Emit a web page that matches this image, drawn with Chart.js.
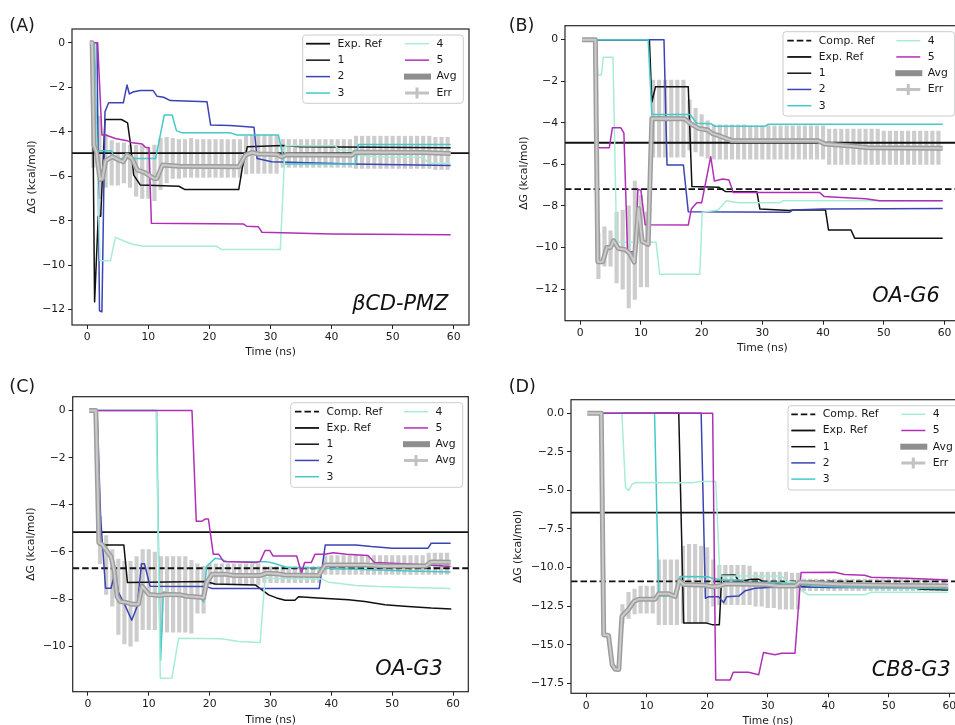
<!DOCTYPE html>
<html>
<head>
<meta charset="utf-8">
<script src="https://cdn.jsdelivr.net/npm/chart.js@4.4.1/dist/chart.umd.min.js"></script>
<style>
  html, body { margin: 0; padding: 0; background: #fff; overflow: hidden; }
  body { width: 955px; height: 725px; position: relative; }
  canvas { position: absolute; }
</style>
</head>
<body>
<canvas id="pA" width="478" height="360" style="left:0;top:0"></canvas>
<canvas id="pB" width="490" height="360" style="left:478px;top:0"></canvas>
<canvas id="pC" width="478" height="370" style="left:0;top:360px"></canvas>
<canvas id="pD" width="490" height="370" style="left:478px;top:360px"></canvas>
<script>
// ---- shared ticks / sampling ----
const timeTicks = [0, 10, 20, 30, 40, 50, 60];
const errTimes = [1,2,3,4,5,6,7,8,9,10,11,12,13,14,15,16,17,18,19,20,21,22,23,24,25,26,27,28,29,30,
  31,32,33,34,35,36,37,38,39,40,41,42,43,44,45,46,47,48,49,50,51,52,53,54,55,56,57,58,59];

// ---- (A) bCD-PMZ ----
const expRefA = -4.96;
const yTicksA = [0, -2, -4, -6, -8, -10, -12];
const runA1 = [[0.8,0],[1.2,-11.65],[1.8,-7.8],[2.2,-7.8],[2.9,-3.45],[5.6,-3.45],[6.6,-3.6],[7.1,-4.6],[7.6,-5.95],[8.7,-6.4],[15,-6.45],[16,-6.6],[24.8,-6.6],[25.4,-5.6],[26.2,-4.68],[32,-4.62],[35,-4.68],[59.5,-4.72]];
const runA2 = [[1.6,0],[2.0,-12.05],[2.4,-12.1],[2.9,-3.1],[3.5,-2.7],[5.9,-2.7],[6.5,-1.9],[6.9,-2.3],[7.6,-2.2],[8.7,-2.15],[10.8,-2.15],[11.4,-2.4],[12.5,-2.45],[13.6,-2.6],[19.6,-2.65],[20.2,-3.7],[23.4,-3.72],[27.3,-3.8],[27.8,-5.2],[30.2,-5.35],[43.4,-5.45],[59.5,-5.52]];
const runA3 = [[1.2,0],[1.6,-4.85],[3.9,-4.85],[4.6,-5.2],[11.2,-5.2],[12.6,-3.25],[13.9,-3.25],[14.6,-3.95],[15.5,-4.05],[23.5,-4.05],[24.5,-4.15],[31.3,-4.15],[32.3,-5.45],[43.9,-5.45],[44.4,-4.57],[59.5,-4.57]];
const runA4 = [[1.0,0],[2.1,-9.8],[3.8,-9.8],[4.6,-8.75],[5.9,-8.9],[7.3,-9.05],[9.2,-9.15],[21.2,-9.15],[22,-9.3],[31.6,-9.3],[32.4,-4.63],[40.6,-4.63],[41.2,-4.82],[43.9,-4.85],[44.4,-5.05],[47.1,-5.12],[55,-5.15],[55.9,-5.42],[59.5,-5.42]];
const runA5 = [[1.0,0],[1.7,0],[2.4,-4.15],[3.0,-4.15],[4.6,-4.3],[6.5,-4.4],[7.4,-4.5],[9.0,-4.55],[9.5,-4.7],[10.1,-4.72],[10.5,-8.12],[25.6,-8.15],[26.1,-8.25],[28.0,-8.27],[28.6,-8.52],[40,-8.6],[59.5,-8.63]];
const avgA = [[0.4,0],[0.8,0],[1.1,-4.6],[1.5,-4.9],[2.1,-6.15],[2.5,-6.1],[3.0,-5.3],[4.1,-5.12],[5.4,-5.3],[5.9,-5.35],[6.5,-5.05],[7.3,-5.2],[8.2,-5.72],[9.5,-5.85],[10.9,-6.1],[11.4,-6.1],[12.3,-5.5],[15,-5.55],[24.8,-5.57],[25.9,-5.05],[27,-4.93],[28,-5.0],[31,-5.02],[31.8,-5.13],[32.7,-5.03],[43.3,-5.06],[43.9,-4.92],[55,-4.93],[59.5,-4.98]];
const errHiA = [-3.5,-3.3,-4.1,-4.4,-4.5,-4.5,-4.6,-4.6,-4.6,-4.7, -4.6,-4.3,-4.25,-4.3,-4.35,-4.35,-4.3,-4.35,-4.35,-4.35,
  -4.35,-4.35,-4.35,-4.35,-4.35,-4.2,-4.15,-4.15,-4.15,-4.15, -4.15,-4.35,-4.35,-4.35,-4.35,-4.35,-4.35,-4.35,-4.35,-4.35,
  -4.35,-4.35,-4.35,-4.2,-4.2,-4.2,-4.2,-4.2,-4.2,-4.2, -4.2,-4.2,-4.2,-4.2,-4.2,-4.2,-4.25,-4.25,-4.25];
const errLoA = [-5.6,-7.0,-6.5,-6.4,-6.4,-6.3,-6.5,-6.9,-7.0,-7.0, -7.1,-6.6,-6.3,-6.1,-6.1,-6.05,-6.05,-6.05,-6.05,-6.05,
  -6.05,-6.05,-6.05,-6.05,-6.05,-5.9,-5.87,-5.87,-5.87,-5.87, -5.87,-5.6,-5.6,-5.6,-5.6,-5.6,-5.6,-5.6,-5.6,-5.6,
  -5.6,-5.6,-5.6,-5.65,-5.65,-5.65,-5.65,-5.65,-5.65,-5.65, -5.65,-5.65,-5.65,-5.65,-5.65,-5.65,-5.7,-5.7,-5.7];

// ---- (B) OA-G6 ----
const expRefB = -4.96;
const compRefB = -7.19;
const yTicksB = [0, -2, -4, -6, -8, -10, -12];
const runB1 = [[2.6,0],[11.4,0],[11.8,-3.0],[12.4,-2.27],[17.8,-2.27],[18.4,-7.07],[22.8,-7.1],[23.9,-7.3],[29.1,-7.32],[29.6,-8.15],[34.5,-8.22],[35,-8.2],[40.4,-8.2],[40.9,-9.16],[44.6,-9.16],[45.2,-9.55],[59.7,-9.55]];
const runB2 = [[2.6,0],[13.8,0],[14.3,-6.03],[17.0,-6.03],[17.8,-8.28],[34.5,-8.3],[35,-8.2],[40,-8.15],[59.7,-8.12]];
const runB3 = [[2.6,0],[11.2,0],[11.8,-3.6],[18.1,-3.6],[19.2,-4.02],[21.6,-4.05],[22.2,-4.17],[30.4,-4.17],[31,-4.07],[59.7,-4.07]];
const runB4 = [[2.6,0],[2.9,-1.7],[3.5,-1.7],[3.8,-0.85],[5.4,-0.85],[6.0,-9.75],[12.5,-9.75],[13.1,-11.28],[19.7,-11.28],[20.1,-8.3],[22.7,-8.2],[24.1,-7.75],[26,-7.85],[32.8,-7.85],[33.4,-7.75],[59.7,-7.75]];
const runB5 = [[2.6,0],[2.9,-5.2],[4.8,-5.2],[5.3,-4.24],[6.7,-4.24],[7.2,-4.5],[7.8,-10.2],[9.1,-10.2],[9.5,-7.2],[10.0,-7.25],[10.7,-8.9],[17.8,-8.92],[18.3,-8.15],[19.2,-7.85],[20.0,-7.85],[21.5,-5.63],[22.1,-6.8],[23.5,-6.7],[24.5,-6.75],[25.2,-7.35],[39.4,-7.35],[40.2,-7.55],[43.8,-7.6],[47,-7.65],[49.3,-7.75],[59.7,-7.75]];
const avgB = [[0.3,0],[2.5,0],[2.9,-10.68],[3.7,-10.68],[4.4,-10.0],[5.0,-10.0],[5.5,-9.67],[6.3,-10.05],[7.4,-10.1],[8.2,-10.3],[8.9,-10.7],[9.6,-8.12],[10.2,-9.7],[11.2,-9.85],[11.8,-3.79],[17.2,-3.8],[18.1,-4.03],[19.5,-4.27],[21.0,-4.35],[21.7,-4.51],[23.3,-4.67],[24.9,-4.85],[39.2,-4.87],[40.3,-5.02],[44.7,-5.12],[47.5,-5.2],[59.7,-5.23]];
const errHiB = [null,null,-9.3,-9.0,-9.2,-8.3,-8.2,-8.0,-6.8,-7.5, -8.3,-1.95,-1.95,-1.95,-1.95,-1.95,-1.95,-2.9,-3.3,-3.6,
  -3.9,-4.1,-4.1,-4.1,-4.1,-4.1,-4.1,-4.15,-4.15,-4.15, -4.15,-4.15,-4.15,-4.15,-4.15,-4.15,-4.15,-4.15,-4.15,-4.15,
  -4.3,-4.3,-4.3,-4.3,-4.3,-4.3,-4.3,-4.3,-4.3,-4.4, -4.4,-4.4,-4.4,-4.4,-4.4,-4.4,-4.4,-4.4,-4.4];
const errLoB = [null,null,-11.5,-10.9,-10.9,-11.7,-12.0,-12.9,-12.5,-11.9, -11.9,-5.65,-5.65,-5.65,-5.65,-5.65,-5.65,-5.3,-5.4,-5.6,
  -5.7,-5.75,-5.75,-5.75,-5.75,-5.75,-5.75,-5.75,-5.75,-5.75, -5.75,-5.75,-5.75,-5.75,-5.75,-5.75,-5.75,-5.75,-5.75,-5.75,
  -6.0,-6.0,-6.0,-6.0,-6.0,-6.0,-6.0,-6.0,-6.0,-6.0, -6.0,-6.0,-6.0,-6.0,-6.0,-6.0,-6.0,-6.0,-6.0];

// ---- (C) OA-G3 ----
const expRefC = -5.16;
const compRefC = -6.69;
const yTicksC = [0, -2, -4, -6, -8, -10];
const runC1 = [[1.5,0],[1.9,-5.7],[5.9,-5.7],[6.5,-7.3],[19.3,-7.25],[20.9,-7.36],[27.5,-7.4],[28.6,-7.61],[29.7,-7.82],[31,-7.95],[32.4,-8.05],[34,-8.05],[34.6,-7.9],[37.8,-7.95],[42.8,-8.03],[45.5,-8.1],[48.8,-8.24],[52,-8.3],[56.4,-8.38],[59.7,-8.42]];
const runC2 = [[1.5,0],[2.1,-4.6],[2.9,-7.54],[3.8,-7.54],[4.5,-6.8],[5.0,-7.7],[6.2,-8.32],[7.2,-8.9],[8.1,-8.3],[8.8,-6.5],[9.3,-6.5],[10.2,-7.45],[19.5,-7.47],[20.4,-7.55],[38,-7.55],[39,-5.7],[44,-5.7],[46.6,-5.77],[50,-5.84],[55.9,-5.84],[56.4,-5.63],[59.6,-5.63]];
const runC3 = [[1.5,0],[11.3,0],[11.7,-7.7],[11.95,-10.6],[12.4,-7.7],[18.4,-7.9],[19.0,-8.13],[19.5,-6.62],[20.9,-6.27],[21.7,-6.3],[22.8,-6.4],[29.5,-6.42],[30.4,-6.47],[32.6,-6.65],[40.3,-6.7],[51.2,-6.8],[59.6,-6.85]];
const runC4 = [[1.5,0],[11.2,0],[11.9,-11.36],[13.8,-11.35],[14.9,-9.66],[22,-9.68],[24.8,-9.8],[28.3,-9.84],[29.1,-7.12],[38.5,-7.15],[39.5,-7.28],[41.1,-7.33],[44,-7.42],[47.7,-7.47],[52,-7.5],[59.6,-7.55]];
const runC5 = [[1.5,0],[17.1,0],[17.8,-4.7],[18.7,-4.7],[19.3,-4.6],[19.8,-4.6],[20.6,-6.1],[21.5,-6.1],[22.3,-6.4],[27.7,-6.45],[28.3,-6.4],[29.1,-5.94],[29.9,-5.94],[30.4,-6.17],[34.3,-6.17],[35.1,-6.9],[35.6,-6.45],[36.7,-6.45],[37.3,-6.1],[38.9,-6.1],[40.3,-6.03],[42.5,-6.1],[46,-6.15],[47.1,-6.45],[52,-6.5],[56,-6.55],[59.6,-6.62]];
const avgC = [[0.2,0],[1.3,0],[1.8,-5.6],[2.4,-5.7],[3.8,-6.2],[4.3,-6.76],[4.8,-7.9],[5.3,-8.1],[6.4,-8.15],[7.3,-8.22],[8.3,-8.22],[8.9,-7.45],[10.0,-7.8],[11.7,-7.85],[13,-7.8],[15.2,-7.82],[16.3,-7.88],[18.4,-7.92],[19.0,-7.95],[19.5,-7.3],[20.4,-6.95],[22.8,-6.95],[23.9,-7.0],[28.3,-7.0],[29.4,-6.9],[31,-6.92],[32.4,-6.98],[37.9,-7.0],[39,-6.55],[45.7,-6.55],[48.4,-6.6],[55.5,-6.6],[56.4,-6.43],[59.6,-6.44]];
const errHiC = [null,-4.5,-5.3,-5.9,-6.3,-6.4,-6.4,-6.2,-5.9,-5.9, -6.0,-6.2,-6.2,-6.2,-6.2,-6.2,-6.35,-6.5,-6.6,-6.5,
  -6.5,-6.5,-6.5,-6.5,-6.5,-6.5,-6.5,-6.5,-6.62,-6.62, -6.62,-6.62,-6.62,-6.62,-6.62,-6.62,-6.62,-6.62,-6.15,-6.15,
  -6.15,-6.15,-6.15,-6.15,-6.15,-6.15,-6.15,-6.15,-6.15,-6.15, -6.15,-6.15,-6.15,-6.15,-6.15,-6.05,-6.05,-6.05,-6.05];
const errLoC = [null,-6.5,-7.8,-8.3,-9.5,-9.9,-10.0,-9.8,-9.3,-9.3, -9.3,-9.4,-9.4,-9.4,-9.4,-9.4,-9.45,-8.6,-8.6,-7.4,
  -7.4,-7.4,-7.4,-7.4,-7.4,-7.4,-7.4,-7.4,-7.3,-7.3, -7.3,-7.3,-7.3,-7.3,-7.3,-7.3,-7.3,-7.3,-6.95,-6.95,
  -6.95,-6.95,-6.95,-6.95,-6.95,-6.95,-6.95,-6.95,-6.95,-6.95, -6.95,-6.95,-6.95,-6.95,-6.95,-6.95,-6.95,-6.95,-6.95];

// ---- (D) CB8-G3 ----
const expRefD = -6.44;
const compRefD = -10.89;
const yTicksD = [0, -2.5, -5, -7.5, -10, -12.5, -15, -17.5];
const runD1 = [[2.7,0],[15.3,0],[16.1,-13.6],[19.9,-13.6],[20.8,-13.7],[22.0,-13.7],[22.4,-10.5],[24.6,-10.48],[25.2,-10.9],[27.4,-10.75],[28.5,-10.75],[29.6,-11.0],[35,-11.2],[37.2,-11.25],[53.7,-11.3],[55.4,-11.4],[59.8,-11.45]];
const runD2 = [[2.7,0],[19.0,0],[19.7,-11.99],[20.2,-11.9],[21.9,-11.9],[22.7,-12.27],[23.2,-11.9],[25.2,-11.85],[26.3,-11.5],[27.9,-11.34],[30,-11.3],[35,-11.25],[40,-11.3],[55,-11.3],[59.8,-11.35]];
const runD3 = [[2.7,0],[11.3,0],[12.0,-11.84],[14.7,-11.84],[15.2,-11.5],[15.5,-10.58],[20.2,-10.6],[20.8,-10.7],[22.4,-10.8],[25.7,-10.8],[26.3,-10.95],[32,-10.95],[35,-11.1],[37.2,-11.2],[45,-11.3],[59.8,-11.38]];
const runD4 = [[2.7,0],[5.9,0],[6.5,-4.8],[7.0,-5.01],[7.6,-4.6],[8.1,-4.49],[17.5,-4.5],[18.6,-4.43],[21.4,-4.43],[22.1,-10.55],[32.3,-10.55],[33,-10.9],[35,-10.95],[35.6,-11.5],[36.7,-11.77],[46,-11.77],[47.1,-11.6],[59.8,-11.6]];
const runD5 = [[2.7,0],[20.9,0],[21.4,-17.28],[23.8,-17.28],[24.3,-16.78],[26.8,-16.78],[28.5,-16.95],[29.3,-15.5],[31.2,-15.65],[32.3,-15.55],[34.5,-15.55],[35.5,-10.32],[41.1,-10.3],[42.7,-10.45],[46,-10.5],[47.1,-10.63],[53,-10.7],[59.8,-10.8]];
const avgD = [[0.2,0],[2.5,0],[2.9,-14.36],[3.7,-14.4],[4.3,-16.3],[4.8,-16.59],[5.4,-16.6],[5.9,-13.17],[7.0,-12.7],[7.9,-12.2],[8.7,-12.05],[11.4,-12.05],[12,-11.7],[13.6,-11.7],[14.7,-11.88],[15.4,-10.84],[16.1,-11.1],[19.7,-11.15],[20.8,-11.25],[22,-11.2],[23,-11.05],[29.6,-11.1],[31.8,-11.2],[34.5,-11.2],[35.3,-10.95],[37.2,-11.0],[42.7,-11.1],[48,-11.15],[59.8,-11.2]];
const errHiD = [null,null,null,null,null,-12.4,-11.6,-11.4,-11.2,-11.2, -11.2,-9.5,-9.5,-9.5,-9.5,-8.6,-8.5,-8.5,-8.6,-8.7,
  -9.5,-9.85,-9.85,-9.85,-9.85,-9.85,-9.9,-10.3,-10.3,-10.3, -10.3,-10.3,-10.3,-10.35,-10.35,-10.75,-10.75,-10.75,-10.75,-10.75,
  -10.75,-10.75,-10.75,-10.75,-10.75,-10.75,-10.75,-10.75,-10.75,-10.75, -10.75,-10.75,-10.75,-10.75,-10.75,-10.75,-10.75,-10.75,-10.75];
const errLoD = [null,null,null,null,null,-13.6,-13.3,-13.0,-12.95,-12.95, -12.95,-13.7,-13.7,-13.7,-13.7,-13.6,-13.6,-13.6,-13.6,-13.6,
  -12.5,-12.4,-12.4,-12.4,-12.4,-12.4,-12.4,-12.5,-12.5,-12.6, -12.6,-12.7,-12.7,-12.7,-12.7,-11.5,-11.5,-11.5,-11.5,-11.5,
  -11.5,-11.5,-11.5,-11.5,-11.5,-11.5,-11.5,-11.5,-11.5,-11.5, -11.5,-11.5,-11.5,-11.5,-11.5,-11.5,-11.5,-11.5,-11.5];

// ---- styles ----
const runColors = ['#111111', '#3a44b4', '#45c8c9', '#a8ecd8', '#b02fb6'];
const avgOuter = '#9d9d9d', avgInner = '#cbcbcb', errColor = '#cdcdcd';
const handleStyles = {
  comp: {c: '#111', w: 1.8, dash: [6.5, 3]},
  exp: {c: '#111', w: 1.8},
  r1: {c: runColors[0], w: 1.5}, r2: {c: runColors[1], w: 1.5}, r3: {c: runColors[2], w: 1.5},
  r4: {c: runColors[3], w: 1.5}, r5: {c: runColors[4], w: 1.5}
};
const col2 = [['r4', '4'], ['r5', '5'], ['avg', 'Avg'], ['err', 'Err']];
const col1Full = [['comp', 'Comp. Ref'], ['exp', 'Exp. Ref'], ['r1', '1'], ['r2', '2'], ['r3', '3']];

function drawHandle(ctx, key, x, y) {
  ctx.save();
  ctx.setLineDash([]);
  ctx.lineCap = 'butt';
  if (key === 'avg') {
    ctx.strokeStyle = '#8e8e8e'; ctx.lineWidth = 6;
    ctx.beginPath(); ctx.moveTo(x - 1, y); ctx.lineTo(x + 26, y); ctx.stroke();
  } else if (key === 'err') {
    ctx.strokeStyle = '#c2c2c2'; ctx.lineWidth = 3;
    ctx.beginPath(); ctx.moveTo(x, y); ctx.lineTo(x + 24, y);
    ctx.moveTo(x + 12, y - 5.5); ctx.lineTo(x + 12, y + 5.5); ctx.stroke();
  } else {
    const s = handleStyles[key];
    ctx.strokeStyle = s.c; ctx.lineWidth = s.w;
    if (s.dash) ctx.setLineDash(s.dash);
    ctx.beginPath(); ctx.moveTo(x, y); ctx.lineTo(x + 24, y); ctx.stroke();
  }
  ctx.restore();
}

// frame, inset legend, panel tag and system name
const decor = {
  id: 'decor',
  afterDraw(chart, args, o) {
    const {ctx, chartArea: a} = chart;
    ctx.save();
    ctx.strokeStyle = '#262626'; ctx.lineWidth = 1.2;
    ctx.strokeRect(a.left, a.top, a.right - a.left, a.bottom - a.top);

    const b = o.box;
    ctx.beginPath();
    ctx.roundRect(b.x, b.y, b.w, b.h, 3);
    ctx.fillStyle = 'rgba(255,255,255,0.8)'; ctx.fill();
    ctx.strokeStyle = '#cccccc'; ctx.lineWidth = 1; ctx.stroke();

    ctx.font = '10.8px "DejaVu Sans"';
    ctx.textBaseline = 'middle'; ctx.textAlign = 'left'; ctx.fillStyle = '#1a1a1a';
    o.columns.forEach((col, c) => col.forEach((e, r) => {
      const x = b.cols[c], y = b.row0 + r * b.step;
      drawHandle(ctx, e[0], x, y);
      ctx.fillText(e[1], x + 31.5, y);
    }));

    ctx.textBaseline = 'alphabetic';
    ctx.font = '17.5px "DejaVu Sans"';
    ctx.fillText(o.tag, o.tagAt[0], o.tagAt[1]);
    ctx.font = 'italic 20.8px "DejaVu Sans"';
    ctx.textAlign = 'right'; ctx.fillStyle = '#111';
    ctx.fillText(o.name, o.nameAt[0], o.nameAt[1]);
    ctx.restore();
  }
};

Chart.defaults.font.family = '"DejaVu Sans", sans-serif';
Chart.defaults.font.size = 10.8;
Chart.defaults.color = '#1a1a1a';

const toXY = arr => arr.map(p => ({x: p[0], y: p[1]}));

function makePanel(p) {
  const ds = [];
  ds.push({
    type: 'bar', order: 10, grouped: false,
    data: errTimes.map((t, i) => p.lo[i] == null ? null : {x: t, y: [p.lo[i], p.hi[i]]}).filter(Boolean),
    backgroundColor: errColor, borderWidth: 0, barThickness: 3.5
  });
  const line = (data, color, width, order, extra) => Object.assign({
    type: 'line', data, borderColor: color, borderWidth: width, order,
    pointRadius: 0, fill: false, tension: 0, borderJoinStyle: 'round'
  }, extra || {});
  ds.push(line([{x: -2.5, y: p.exp}, {x: 62.5, y: p.exp}], '#111', 1.8, 8));
  if (p.comp != null) ds.push(line([{x: -2.5, y: p.comp}, {x: 62.5, y: p.comp}], '#111', 1.8, 8, {borderDash: [6.5, 3]}));
  p.runs.forEach((r, i) => ds.push(line(toXY(r), runColors[i], 1.5, 7 - i)));
  ds.push(line(toXY(p.avg), avgOuter, 5, 1));
  ds.push(line(toXY(p.avg), avgInner, 2, 0));

  const L = p.lay;
  const fmt = v => (p.dec ? v.toFixed(p.dec) : String(v)).replace('-', '\u2212');
  new Chart(document.getElementById(p.id), {
    type: 'line',
    data: {datasets: ds},
    options: {
      responsive: false, animation: false, events: [],
      layout: {padding: {left: 0, top: L.top, right: L.right, bottom: 0}},
      plugins: {
        legend: {display: false}, tooltip: {enabled: false},
        decor: {box: p.box, columns: p.legend, tag: p.tag, tagAt: p.tagAt, name: p.name, nameAt: p.nameAt}
      },
      scales: {
        x: {
          type: 'linear', min: -2.5, max: 62.5, offset: false,
          afterBuildTicks: s => { s.ticks = timeTicks.map(v => ({value: v})); },
          afterFit: s => { s.height = L.xh; },
          grid: {offset: false, drawOnChartArea: false, drawTicks: true, tickLength: 4, color: '#222'},
          border: {display: false},
          ticks: {padding: 2, maxRotation: 0, autoSkip: false, callback: v => String(v)},
          title: {display: true, text: 'Time (ns)', padding: {top: 0, bottom: L.xtb}}
        },
        y: {
          type: 'linear', min: p.yMin, max: p.yMax, beginAtZero: false,
          afterBuildTicks: s => { s.ticks = p.yTicks.map(v => ({value: v})); },
          afterFit: s => { s.width = L.yw; },
          grid: {drawOnChartArea: false, drawTicks: true, tickLength: 4, color: '#222'},
          border: {display: false},
          ticks: {padding: 3, autoSkip: false, callback: v => fmt(v)},
          title: {display: true, text: 'ΔG (kcal/mol)', padding: {top: L.ytp, bottom: 0}}
        }
      }
    },
    plugins: [decor]
  });
}

makePanel({
  id: 'pA', tag: '(A)', name: 'βCD-PMZ', tagAt: [9.3, 30.5], nameAt: [448.3, 310],
  runs: [runA1, runA2, runA3, runA4, runA5], avg: avgA, lo: errLoA, hi: errHiA,
  exp: expRefA, comp: null, yMin: -12.69, yMax: 0.62, yTicks: yTicksA, dec: 0,
  legend: [col1Full.slice(1), col2],
  box: {x: 302.7, y: 35, w: 160.6, h: 68.3, row0: 43.7, step: 16.45, cols: [306, 405]},
  lay: {top: 29, right: 9, yw: 72, xh: 35, ytp: 25.5, xtb: 1}
});
makePanel({
  id: 'pB', tag: '(B)', name: 'OA-G6', tagAt: [30.7, 30.5], nameAt: [461.7, 301.7],
  runs: [runB1, runB2, runB3, runB4, runB5], avg: avgB, lo: errLoB, hi: errHiB,
  exp: expRefB, comp: compRefB, yMin: -13.52, yMax: 0.67, yTicks: yTicksB, dec: 0,
  legend: [col1Full, col2],
  box: {x: 305, y: 31.7, w: 171.7, h: 84.3, row0: 40.7, step: 16.25, cols: [309.3, 418.3]},
  lay: {top: 25.7, right: 8.3, yw: 87, xh: 39.3, ytp: 40.2, xtb: 5.2}
});
makePanel({
  id: 'pC', tag: '(C)', name: 'OA-G3', tagAt: [9.3, 31.5], nameAt: [442.7, 315],
  runs: [runC1, runC2, runC3, runC4, runC5], avg: avgC, lo: errLoC, hi: errHiC,
  exp: expRefC, comp: compRefC, yMin: -11.93, yMax: 0.59, yTicks: yTicksC, dec: 0,
  legend: [col1Full, [col2[0], col2[1], col2[2], ['err', 'Avg']]],
  box: {x: 290.7, y: 42.7, w: 172, h: 84.6, row0: 51.7, step: 16.25, cols: [295, 404]},
  lay: {top: 36.7, right: 9.7, yw: 72.7, xh: 38.3, ytp: 25.2, xtb: 3.5}
});
makePanel({
  id: 'pD', tag: '(D)', name: 'CB8-G3', tagAt: [30.7, 31.8], nameAt: [472.7, 316],
  runs: [runD1, runD2, runD3, runD4, runD5], avg: avgD, lo: errLoD, hi: errHiD,
  exp: expRefD, comp: compRefD, yMin: -18.15, yMax: 0.88, yTicks: yTicksD, dec: 1,
  legend: [col1Full, col2],
  box: {x: 310, y: 45.7, w: 180, h: 84.3, row0: 54.3, step: 16.2, cols: [313.3, 423.3]},
  lay: {top: 39.7, right: 3.5, yw: 93, xh: 36.7, ytp: 33.5, xtb: 2.8}
});
</script>
</body>
</html>
